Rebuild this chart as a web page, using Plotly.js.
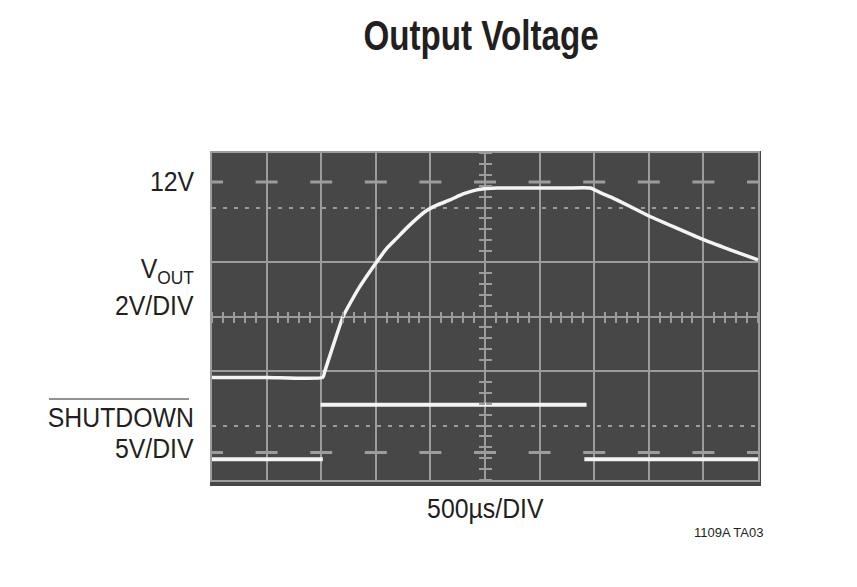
<!DOCTYPE html>
<html>
<head>
<meta charset="utf-8">
<script src="https://cdn.plot.ly/plotly-3.0.1.min.js"></script>
<style>
html,body{margin:0;padding:0;background:#fff;}
#chart{width:857px;height:587px;}
/* condensed look of the original typeface */
#chart .gtitle{transform-box:fill-box;transform-origin:50% 50%;transform:scaleX(0.79);}
#chart .annotation-text{transform-box:fill-box;transform-origin:100% 50%;transform:scaleX(0.92);}
#chart .annotation[data-index="5"] .annotation-text{transform-origin:50% 50%;}
#chart .annotation[data-index="6"] .annotation-text{transform:none;}
</style>
</head>
<body>
<div id="chart"></div>
<script>
// ---- Data ----
// VOUT trace (time in microseconds, voltage in volts, 2V/DIV)
const voutTimeUs = [0, 500, 1015, 1032, 1100, 1200, 1280, 1353, 1440, 1521, 1600, 1690, 1800, 1950, 2060, 2179, 2300, 2424, 2520, 2607, 2800, 3250, 3463, 3560, 3677, 3830, 3983, 4230, 4472, 4740, 5000];
const voutVolts  = [5.05, 5.05, 5.05, 5.26, 6.1, 7.28, 7.88, 8.38, 8.9, 9.36, 9.78, 10.15, 10.6, 11.13, 11.37, 11.56, 11.78, 11.93, 11.98, 12.0, 12.0, 12.0, 12.0, 11.82, 11.62, 11.32, 11.01, 10.57, 10.15, 9.74, 9.36];
// SHUTDOWN trace (5V/DIV); edges are too fast to show, so segments are separate
const shdnTimeUs = [0, 1015, 1015, 995, 3430, 3430, 3410, 5000];
const shdnVolts  = [0, 0, null, 5, 5, null, 0, 0];
// Labels
const titleText = 'Output Voltage';
const level12Label = '12V';
const voutLabel = 'V<sub>OUT</sub>';
const voutScale = '2V/DIV';
const shdnLabel = 'SHUTDOWN';
const shdnScale = '5V/DIV';
const timeScale = '500µs/DIV';
const figId = '1109A TA03';

// ---- Graticule settings ----
const DIV_X = 10, DIV_Y = 6;
const usPerDiv = 500;
const gridCol = '#9c9c9c';
const screenBg = '#474747';
const traceCol = '#f4f4f4';
const textCol = '#231f20';
const font = 'Liberation Sans, Arial, Helvetica, sans-serif';

const voutRange = [1.284, 13.284];   // 6 div * 2V
const shdnRange = [-1.9, 28.1];      // 6 div * 5V

const hidden = {showgrid:false, zeroline:false, showticklabels:false, showline:false, ticks:''};

const traces = [
  {type:'scatter', mode:'lines', x:voutTimeUs, y:voutVolts, xaxis:'x', yaxis:'y',
   line:{color:traceCol, width:3.5, shape:'spline', smoothing:0.5}, hoverinfo:'skip', showlegend:false, name:'VOUT'},
  {type:'scatter', mode:'lines', x:shdnTimeUs, y:shdnVolts, xaxis:'x', yaxis:'y2', connectgaps:false,
   line:{color:traceCol, width:4}, hoverinfo:'skip', showlegend:false, name:'SHUTDOWN'},
  // helper (empty) traces so the graticule axes get drawn
  {type:'scatter', x:[], y:[], xaxis:'x', yaxis:'y3', hoverinfo:'skip', showlegend:false},
  {type:'scatter', x:[], y:[], xaxis:'x', yaxis:'y4', hoverinfo:'skip', showlegend:false},
  {type:'scatter', x:[], y:[], xaxis:'x2', yaxis:'y3', hoverinfo:'skip', showlegend:false},
  {type:'scatter', x:[], y:[], xaxis:'x3', yaxis:'y3', hoverinfo:'skip', showlegend:false},
  {type:'scatter', x:[], y:[], xaxis:'x', yaxis:'y5', hoverinfo:'skip', showlegend:false},
  {type:'scatter', x:[], y:[], xaxis:'x', yaxis:'y6', hoverinfo:'skip', showlegend:false}
];

const centerTicks = {range:[0, DIV_X], tickmode:'linear', tick0:0, dtick:0.2, ticks:'outside',
  ticklen:5, tickwidth:2, tickcolor:gridCol, showticklabels:false, showgrid:false, zeroline:false, showline:false};
const centerTicksY = Object.assign({}, centerTicks, {range:[0, DIV_Y], ticklen:6});

const W = 857, H = 587, mL = 212, mR = 99, mT = 153, mB = 107;
const pw = W - mL - mR, ph = H - mT - mB;
const lab = 27;
const labShift = -16;

const layout = {
  width:W, height:H,
  margin:{l:mL, r:mR, t:mT, b:mB, pad:0},
  paper_bgcolor:'#ffffff',
  plot_bgcolor:'rgba(0,0,0,0)',
  font:{family:font, color:textCol, size:lab},
  title:{text:titleText, font:{family:font, size:42, color:textCol, weight:'bold'},
         x:481/W, xref:'container', xanchor:'center', y:1-35/H, yref:'container', yanchor:'middle'},
  xaxis:{range:[0, DIV_X*usPerDiv], tickmode:'linear', tick0:0, dtick:usPerDiv, showgrid:true,
         gridcolor:gridCol, gridwidth:2, showline:true, mirror:true, linecolor:gridCol, linewidth:2,
         ticks:'', showticklabels:false, zeroline:false, fixedrange:true},
  yaxis:Object.assign({range:voutRange, fixedrange:true}, hidden),
  yaxis2:Object.assign({range:shdnRange, overlaying:'y', fixedrange:true}, hidden),
  yaxis3:{range:[0, DIV_Y], overlaying:'y', tickvals:[2,3,4], showgrid:true, gridcolor:gridCol, gridwidth:2,
          showline:true, mirror:true, linecolor:gridCol, linewidth:2, ticks:'', showticklabels:false, zeroline:false},
  yaxis4:{range:[0, DIV_Y], overlaying:'y', tickvals:[1,5], showgrid:true, gridcolor:gridCol, gridwidth:2,
          griddash:'4px,7px', showline:false, ticks:'', showticklabels:false, zeroline:false},
  xaxis2:Object.assign({overlaying:'x', anchor:'free', position:0.5, side:'bottom'}, centerTicks),
  xaxis3:Object.assign({overlaying:'x', anchor:'free', position:0.5, side:'top'}, centerTicks),
  yaxis5:Object.assign({overlaying:'y', anchor:'free', position:0.5, side:'left'}, centerTicksY),
  yaxis6:Object.assign({overlaying:'y', anchor:'free', position:0.5, side:'right'}, centerTicksY),
  shapes:[
    // screen face (slightly larger than the graticule)
    {type:'rect', xref:'paper', yref:'paper', x0:-2/pw, x1:1+3/pw, y0:-6/ph, y1:1+2/ph,
     fillcolor:screenBg, line:{width:0}, layer:'below'},
    // short graticule marker dashes
    {type:'line', xref:'paper', yref:'paper', x0:0, x1:1, y0:(480-182)/ph, y1:(480-182)/ph,
     line:{color:gridCol, width:3, dash:'11px,32.6px,11px,0px'}, layer:'below'},
    {type:'line', xref:'paper', yref:'paper', x0:0, x1:1, y0:(480-452.5)/ph, y1:(480-452.5)/ph,
     line:{color:gridCol, width:3, dash:'11px,32.6px,11px,0px'}, layer:'below'},
    // overline on SHUTDOWN (active-low)
    {type:'line', xref:'paper', yref:'paper', x0:(49-mL)/pw, x1:(189-mL)/pw, y0:(480-399)/ph, y1:(480-399)/ph,
     line:{color:'#6d6d6d', width:1.5}}
  ],
  annotations:[
    {text:level12Label, xref:'paper', x:0, xanchor:'right', xshift:labShift, yref:'y', y:12, yanchor:'middle', yshift:6,
     showarrow:false, font:{size:lab}},
    {text:voutLabel, xref:'paper', x:0, xanchor:'right', xshift:labShift, yref:'paper', y:(480-271)/ph, yanchor:'middle',
     showarrow:false, font:{size:lab}},
    {text:voutScale, xref:'paper', x:0, xanchor:'right', xshift:labShift, yref:'paper', y:(480-306)/ph, yanchor:'middle',
     showarrow:false, font:{size:lab}},
    {text:shdnLabel, xref:'paper', x:0, xanchor:'right', xshift:labShift, yref:'paper', y:(480-417.5)/ph, yanchor:'middle',
     showarrow:false, font:{size:lab}},
    {text:shdnScale, xref:'paper', x:0, xanchor:'right', xshift:labShift, yref:'paper', y:(480-449)/ph, yanchor:'middle',
     showarrow:false, font:{size:lab}},
    {text:timeScale, xref:'paper', x:0.5, xanchor:'center', yref:'paper', y:-(509-480)/ph, yanchor:'middle',
     showarrow:false, font:{size:lab}},
    {text:figId, xref:'paper', x:1, xanchor:'right', xshift:765-(W-mR), yref:'paper', y:-(532.5-480)/ph, yanchor:'middle',
     showarrow:false, font:{size:13}}
  ]
};

Plotly.newPlot('chart', traces, layout, {staticPlot:true, displayModeBar:false});
</script>
</body>
</html>
